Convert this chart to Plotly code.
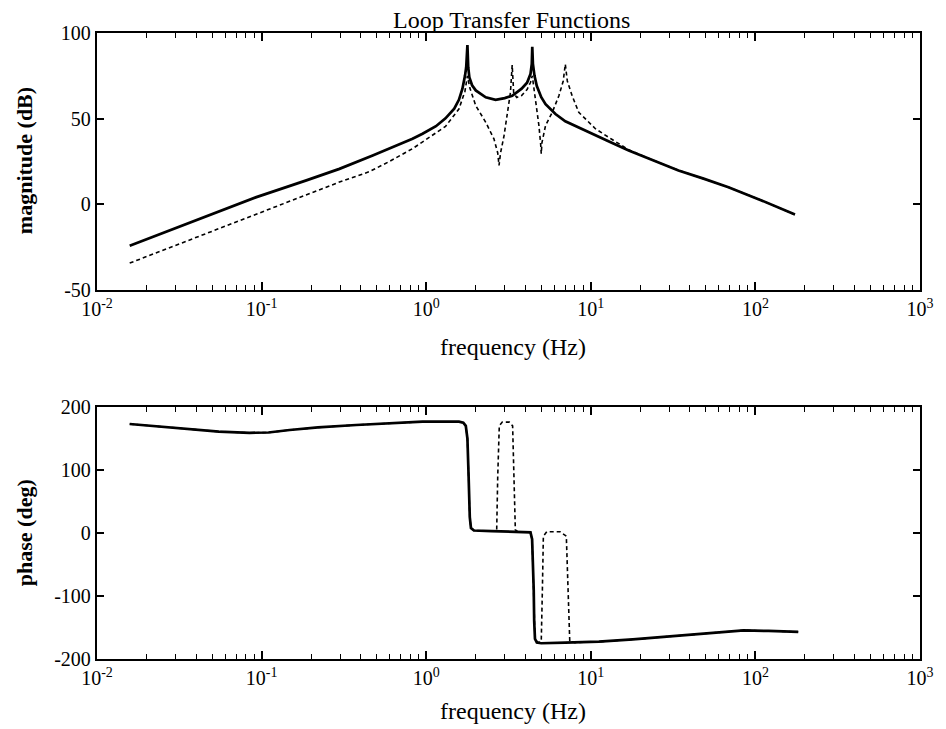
import plotly.graph_objects as go

# ---------------- data ----------------
# Magnitude (dB) -- solid curve
mag_solid_f = [0.0158, 0.0366, 0.093, 0.187, 0.297, 0.473, 0.597, 0.655, 0.826, 0.95, 1.146,
               1.31, 1.48, 1.58, 1.66, 1.72, 1.75, 1.78, 1.80, 1.83, 1.9, 2.0, 2.3, 2.64,
               3.0, 3.33, 3.8, 4.1, 4.3, 4.38, 4.41, 4.45, 4.55, 4.7, 5.0, 5.31, 5.7, 6.1,
               7.0, 8.45, 10.7, 13.4, 17.0, 24.1, 34.1, 48.4, 68.6, 109, 174]
mag_solid_db = [-24.2, -10.7, 4.2, 14, 20.7, 28.5, 32.5, 34.2, 38.3, 41.2, 45.6,
                50.2, 55.8, 61, 67.5, 75, 80, 93, 80, 74, 69.5, 66.5, 62.5, 61,
                62, 63.4, 67.5, 71, 76, 82, 92, 82, 75, 69, 62.5, 58.5, 55.5, 52.7,
                48.5, 45, 40.5, 36, 31.4, 25.6, 19.8, 15, 10, 2.3, -6]

# Magnitude (dB) -- dashed curve
mag_dash_f = [0.0158, 0.0366, 0.093, 0.187, 0.297, 0.45, 0.597, 0.826, 0.95, 1.31, 1.58, 1.72,
              1.78, 1.84, 2.0, 2.3, 2.58, 2.72, 2.77, 2.83, 2.97, 3.11, 3.25, 3.33, 3.40,
              3.55, 3.8, 4.1, 4.3, 4.41, 4.55, 4.84, 4.96, 5.0, 5.05, 5.31, 5.83, 6.4,
              6.8, 7.0, 7.2, 7.7, 8.45, 10.7, 13.4, 17.0, 24.1, 34.1, 48.4, 68.6, 109, 174]
mag_dash_db = [-34.3, -20.7, -5.4, 5.6, 13, 19, 25, 32.5, 36.5, 45.5, 55.6, 66,
               75, 68, 57.6, 47.9, 38.2, 30, 22.7, 30, 40, 53.7, 65.3, 81.3, 65,
               62.4, 63.5, 67, 71.1, 75, 66, 45.9, 35, 29.5, 36, 46, 53.7, 63.4,
               72, 81.8, 72, 63.4, 53.7, 44, 38, 31.8, 25.6, 19.8, 15, 10, 2.3, -6]

# Phase (deg) -- solid curve
ph_solid_f = [0.0158, 0.025, 0.0366, 0.055, 0.0845, 0.11, 0.148, 0.22, 0.375, 0.6, 0.95,
              1.58, 1.68, 1.74, 1.78, 1.81, 1.84, 1.87, 1.95, 2.5, 3.5, 4.3, 4.40, 4.45,
              4.50, 4.53, 4.58, 4.7, 5.0, 7.0, 11.2, 18, 28.3, 45, 71.8, 85, 120, 182]
ph_solid_deg = [173, 169, 164.6, 161, 159, 159.5, 163.5, 167.5, 171.4, 174.5, 176.7,
                176.7, 175, 170, 150, 90, 25, 8, 4, 3, 2, 1, -10, -40,
                -90, -140, -168, -174, -175, -174, -172.5, -169, -164.6, -159.5, -155, -154.5, -155.5, -157]

# Phase (deg) -- dashed curve
ph_dash_f = [0.0158, 0.025, 0.0366, 0.055, 0.0845, 0.11, 0.148, 0.22, 0.375, 0.6, 0.95,
             1.58, 1.68, 1.74, 1.78, 1.81, 1.84, 1.87, 1.95, 2.5, 2.68, 2.72, 2.78, 2.9,
             3.2, 3.35, 3.42, 3.48, 3.6, 4.3, 4.40, 4.50, 4.58, 4.8, 5.0, 5.08, 5.15,
             5.4, 6.5, 7.1, 7.3, 7.45, 8.0, 11.2, 18, 28.3, 45, 71.8, 85, 120, 182]
ph_dash_deg = [173, 169, 164.6, 161, 159, 159.5, 163.5, 167.5, 171.4, 174.5, 176.7,
               176.7, 175, 170, 150, 90, 25, 8, 4, 3, 3, 90, 170, 176,
               176, 170, 90, 5, 2, 1, -10, -90, -168, -174, -172, -90, -5,
               2, 2, -5, -90, -172, -174, -172.5, -169, -164.6, -159.5, -155, -154.5, -155.5, -157]

x_tickvals = [0.01, 0.1, 1, 10, 100, 1000]
x_ticktext = ["10<sup>-2</sup>", "10<sup>-1</sup>", "10<sup>0</sup>",
              "10<sup>1</sup>", "10<sup>2</sup>", "10<sup>3</sup>"]
mag_ticks = [-50, 0, 50, 100]
ph_ticks = [-200, -100, 0, 100, 200]

title_text = "Loop Transfer Functions"
xlabel = "frequency (Hz)"
ylabel_mag = "magnitude (dB)"
ylabel_ph = "phase (deg)"

# ---------------- figure ----------------
minor_vals = [m * 10 ** e for e in range(-2, 3) for m in range(2, 10)]
serif = "Liberation Serif, Times New Roman, serif"

fig = go.Figure()
fig.add_trace(go.Scatter(x=mag_dash_f, y=mag_dash_db, mode="lines",
                         line=dict(color="black", width=1.6, dash="4px,3px"),
                         xaxis="x", yaxis="y", showlegend=False))
fig.add_trace(go.Scatter(x=mag_solid_f, y=mag_solid_db, mode="lines",
                         line=dict(color="black", width=2.7),
                         xaxis="x", yaxis="y", showlegend=False))
fig.add_trace(go.Scatter(x=ph_dash_f, y=ph_dash_deg, mode="lines",
                         line=dict(color="black", width=1.6, dash="4px,3px"),
                         xaxis="x2", yaxis="y2", showlegend=False))
fig.add_trace(go.Scatter(x=ph_solid_f, y=ph_solid_deg, mode="lines",
                         line=dict(color="black", width=2.7),
                         xaxis="x2", yaxis="y2", showlegend=False))


def xaxis_cfg(anchor):
    return dict(type="log", range=[-2, 3], anchor=anchor,
                tickmode="array", tickvals=x_tickvals, ticktext=x_ticktext,
                ticks="inside", ticklen=8, tickwidth=1.5, tickcolor="black",
                mirror="ticks", showline=True, linewidth=2.4, linecolor="black",
                showgrid=False, zeroline=False,
                minor=dict(ticks="inside", ticklen=5, tickwidth=1.2, tickcolor="black",
                           tickmode="array", tickvals=minor_vals, showgrid=False),
                tickfont=dict(family=serif, size=20, color="black"))


def yaxis_cfg(anchor, rng, tv, dom):
    return dict(range=rng, anchor=anchor, domain=dom,
                tickmode="array", tickvals=tv, ticktext=[str(v) for v in tv],
                ticks="inside", ticklen=7, tickwidth=1.5, tickcolor="black",
                mirror="ticks", showline=True, linewidth=2.4, linecolor="black",
                showgrid=False, zeroline=False,
                tickfont=dict(family=serif, size=20, color="black"))


W, H = 946, 729
# plot box in window pixels: x 97..922, y 33..659
ml, mt = 97, 33
mr = W - 922
mb = H - 659
ph = H - mt - mb
pw = W - ml - mr


def py(p):
    return ((H - mb) - p) / ph


def px(p):
    return (p - ml) / pw


fig.update_layout(
    width=W, height=H,
    margin=dict(l=ml, r=mr, t=mt, b=mb),
    paper_bgcolor="white", plot_bgcolor="white",
    xaxis=xaxis_cfg("y"),
    yaxis=yaxis_cfg("x", [-50, 100], mag_ticks, [py(290), 1.0]),
    xaxis2=xaxis_cfg("y2"),
    yaxis2=yaxis_cfg("x2", [-200, 200], ph_ticks, [0.0, py(407)]),
    font=dict(family=serif, color="black"),
    annotations=[
        dict(text=title_text, xref="paper", yref="paper", x=px(513), y=py(20),
             xanchor="center", yanchor="middle", showarrow=False,
             font=dict(family=serif, size=24, color="black")),
        dict(text=xlabel, xref="paper", yref="paper", x=px(514), y=py(347),
             xanchor="center", yanchor="middle", showarrow=False,
             font=dict(family=serif, size=24, color="black")),
        dict(text=xlabel, xref="paper", yref="paper", x=px(514), y=py(711),
             xanchor="center", yanchor="middle", showarrow=False,
             font=dict(family=serif, size=24, color="black")),
        dict(text="<b>" + ylabel_mag + "</b>", xref="paper", yref="paper",
             x=px(24), y=py(161), textangle=-90,
             xanchor="center", yanchor="middle", showarrow=False,
             font=dict(family=serif, size=22, color="black")),
        dict(text="<b>" + ylabel_ph + "</b>", xref="paper", yref="paper",
             x=px(24), y=py(533), textangle=-90,
             xanchor="center", yanchor="middle", showarrow=False,
             font=dict(family=serif, size=22, color="black")),
    ],
)

fig.write_html("out.html", config={"displayModeBar": False},
               post_script="document.body.style.margin='0';document.body.style.overflow='hidden';")
